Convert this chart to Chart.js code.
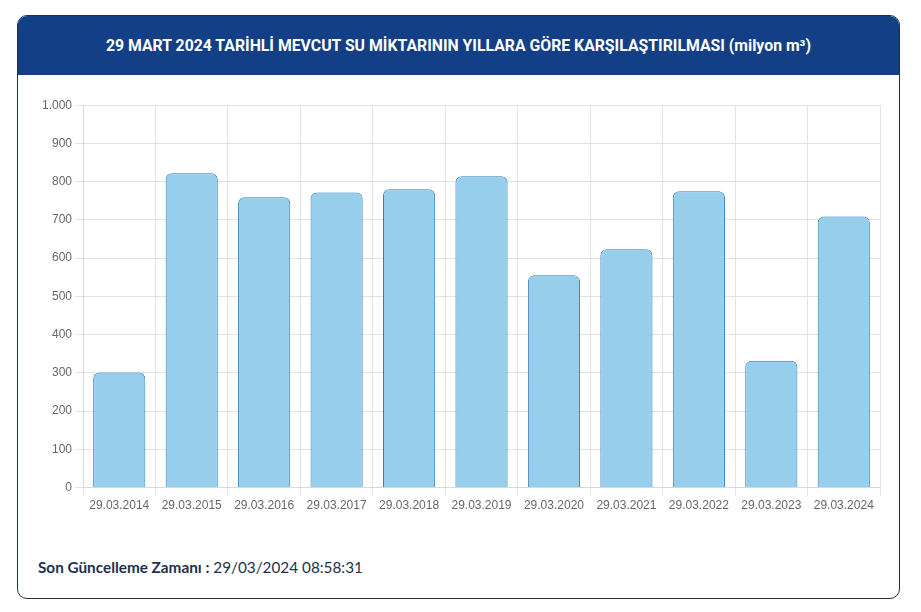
<!DOCTYPE html>
<html lang="tr">
<head>
<meta charset="utf-8">
<title>Mevcut Su Miktarı</title>
<script src="https://cdn.jsdelivr.net/npm/chart.js@4"></script>
<style>
  html, body { margin:0; padding:0; background:#fff; }
  .card {
    position:absolute; left:17px; top:15px; width:883px; height:584px;
    border:1px solid #1d3247; border-radius:10px; overflow:hidden; box-sizing:border-box;
  }
  .card-head {
    height:59px; background:#123f86; color:#fff;
    display:flex; align-items:center; justify-content:center;
    font-family:"Roboto", sans-serif; font-weight:700; font-size:15.8px; letter-spacing:0;
  }
  .chart-box { position:absolute; left:12px; top:79px; width:862px; height:421px; }
  .updated {
    position:absolute; left:20px; top:542px;
    font-family:"Lato", sans-serif; font-size:15.3px; color:#1d3050;
  }
  .updated b { font-weight:700; }
</style>
</head>
<body>
<div class="card">
  <div class="card-head">29 MART 2024 TARİHLİ MEVCUT SU MİKTARININ YILLARA GÖRE KARŞILAŞTIRILMASI (milyon m³)</div>
  <div class="chart-box"><canvas id="su-chart"></canvas></div>
  <div class="updated"><b>Son Güncelleme Zamanı :</b> 29/03/2024 08:58:31</div>
</div>
<script>
// Dates compared, one bar each
const dates = ['29.03.2014','29.03.2015','29.03.2016','29.03.2017','29.03.2018','29.03.2019',
               '29.03.2020','29.03.2021','29.03.2022','29.03.2023','29.03.2024'];
// Available water, million m3
const volumes = [301, 822, 759, 772, 780, 814, 555, 623, 775, 332, 709];
const yTicks = [0, 100, 200, 300, 400, 500, 600, 700, 800, 900, 1000];

new Chart(document.getElementById('su-chart'), {
  type:'bar',
  data:{
    labels: dates,
    datasets:[{
      label:'Mevcut su',
      data: volumes,
      backgroundColor:'rgba(151,206,235,1)',
      borderColor:'#2f80b8',
      borderWidth:1,
      borderRadius:{ topLeft:6, topRight:6 },
      borderSkipped:'bottom',
      categoryPercentage:0.9,
      barPercentage:0.8
    }]
  },
  options:{
    responsive:true, maintainAspectRatio:false, animation:false,
    layout:{ padding:{ top:10, right:12, left:9 } },
    plugins:{ legend:{ display:false }, tooltip:{ enabled:false } },
    scales:{
      x:{
        grid:{ color:'#e3e3e3', offset:true, tickLength:8 },
        ticks:{ color:'#666', font:{ family:'"Liberation Sans", Arial', size:12 }, maxRotation:0, padding:3 },
        border:{ color:'#d8d8d8' }
      },
      y:{
        min:0, max:1000,
        afterBuildTicks: ax => { ax.ticks = yTicks.map(v => ({ value:v })); },
        grid:{ color:'#e3e3e3', tickLength:8 },
        ticks:{ color:'#666', font:{ family:'"Liberation Sans", Arial', size:12 },
                callback: v => v.toLocaleString('tr-TR') },
        border:{ color:'#d8d8d8' }
      }
    }
  }
});
</script>
</body>
</html>
